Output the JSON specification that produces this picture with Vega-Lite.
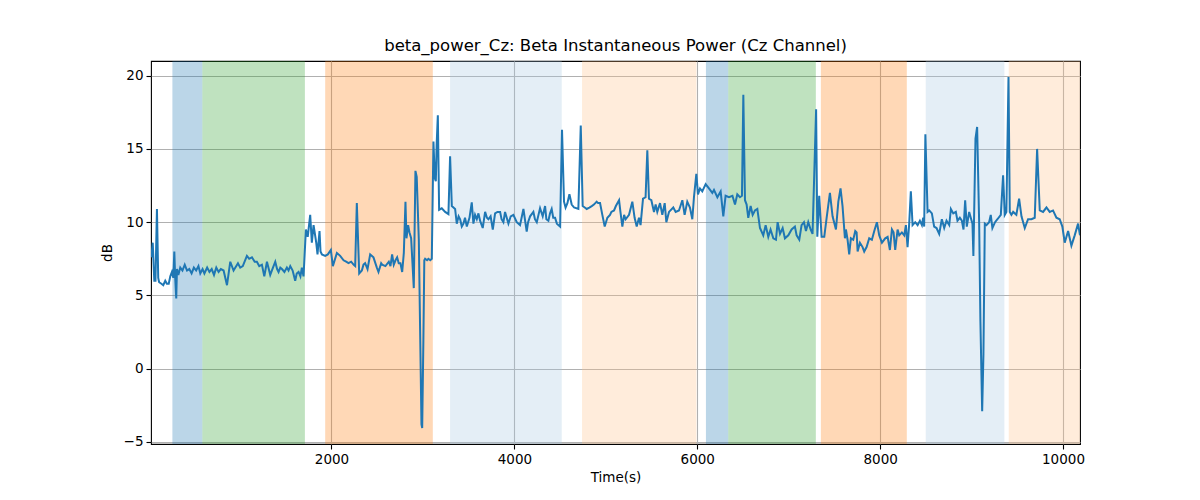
{
  "$schema": "https://vega.github.io/schema/vega-lite/v6.json",
  "autosize": {"type": "none"},
  "padding": {"left": 151, "top": 61, "right": 120, "bottom": 56},
  "width": 929,
  "height": 383,
  "background": "white",
  "title": {
    "text": "beta_power_Cz: Beta Instantaneous Power (Cz Channel)",
    "font": "DejaVu Sans",
    "fontSize": 16.5,
    "fontWeight": "normal",
    "color": "black",
    "anchor": "middle",
    "offset": 7
  },
  "datasets": {
    "bands": [
      {"start": 260, "end": 588, "phase": "A"},
      {"start": 588, "end": 1709, "phase": "B"},
      {"start": 1931, "end": 3108, "phase": "C"},
      {"start": 3297, "end": 4518, "phase": "D"},
      {"start": 4740, "end": 5991, "phase": "E"},
      {"start": 6095, "end": 6339, "phase": "A"},
      {"start": 6339, "end": 7297, "phase": "B"},
      {"start": 7352, "end": 8292, "phase": "C"},
      {"start": 8499, "end": 9359, "phase": "D"},
      {"start": 9407, "end": 10250, "phase": "E"}
    ],
    "power": [
      {"t": 30, "dB": 7.6}, {"t": 45, "dB": 8.6}, {"t": 62, "dB": 6.0}, {"t": 75, "dB": 6.0},
      {"t": 91, "dB": 10.9}, {"t": 105, "dB": 6.2}, {"t": 115, "dB": 5.9}, {"t": 140, "dB": 5.8},
      {"t": 160, "dB": 5.7}, {"t": 182, "dB": 6.0}, {"t": 200, "dB": 5.8}, {"t": 220, "dB": 5.8},
      {"t": 237, "dB": 6.3}, {"t": 255, "dB": 6.6}, {"t": 270, "dB": 6.2}, {"t": 281, "dB": 8.0},
      {"t": 290, "dB": 6.3}, {"t": 302, "dB": 4.8}, {"t": 310, "dB": 6.8}, {"t": 325, "dB": 6.4},
      {"t": 346, "dB": 6.9}, {"t": 370, "dB": 6.7}, {"t": 395, "dB": 7.1}, {"t": 420, "dB": 6.7},
      {"t": 445, "dB": 6.8}, {"t": 470, "dB": 6.5}, {"t": 495, "dB": 6.9}, {"t": 520, "dB": 6.7},
      {"t": 545, "dB": 7.0}, {"t": 565, "dB": 6.5}, {"t": 590, "dB": 6.8}, {"t": 610, "dB": 6.5},
      {"t": 640, "dB": 6.9}, {"t": 665, "dB": 6.6}, {"t": 690, "dB": 6.8}, {"t": 715, "dB": 6.4},
      {"t": 740, "dB": 6.9}, {"t": 765, "dB": 6.6}, {"t": 790, "dB": 6.8}, {"t": 820, "dB": 6.7},
      {"t": 857, "dB": 5.7}, {"t": 893, "dB": 7.3}, {"t": 929, "dB": 6.7}, {"t": 977, "dB": 7.2},
      {"t": 1002, "dB": 6.9}, {"t": 1030, "dB": 7.0}, {"t": 1075, "dB": 7.7}, {"t": 1100, "dB": 7.5},
      {"t": 1130, "dB": 7.6}, {"t": 1160, "dB": 7.3}, {"t": 1184, "dB": 7.3}, {"t": 1210, "dB": 7.0},
      {"t": 1239, "dB": 7.1}, {"t": 1265, "dB": 6.3}, {"t": 1294, "dB": 7.3}, {"t": 1310, "dB": 6.9},
      {"t": 1330, "dB": 6.4}, {"t": 1360, "dB": 6.9}, {"t": 1385, "dB": 7.3}, {"t": 1405, "dB": 6.8},
      {"t": 1421, "dB": 6.6}, {"t": 1440, "dB": 6.9}, {"t": 1458, "dB": 6.8}, {"t": 1485, "dB": 6.6},
      {"t": 1512, "dB": 6.9}, {"t": 1530, "dB": 6.7}, {"t": 1549, "dB": 7.0}, {"t": 1575, "dB": 6.7},
      {"t": 1603, "dB": 6.0}, {"t": 1620, "dB": 6.5}, {"t": 1640, "dB": 6.6}, {"t": 1660, "dB": 6.3},
      {"t": 1676, "dB": 6.9}, {"t": 1694, "dB": 6.3}, {"t": 1720, "dB": 9.5}, {"t": 1740, "dB": 9.0},
      {"t": 1767, "dB": 10.5}, {"t": 1785, "dB": 8.6}, {"t": 1804, "dB": 9.8}, {"t": 1833, "dB": 8.6},
      {"t": 1847, "dB": 7.8}, {"t": 1869, "dB": 9.4}, {"t": 1880, "dB": 8.0}, {"t": 1895, "dB": 7.8},
      {"t": 1931, "dB": 7.7}, {"t": 1960, "dB": 7.8}, {"t": 1993, "dB": 8.1}, {"t": 2015, "dB": 7.0},
      {"t": 2059, "dB": 7.9}, {"t": 2095, "dB": 7.7}, {"t": 2132, "dB": 7.4}, {"t": 2160, "dB": 7.3},
      {"t": 2186, "dB": 7.2}, {"t": 2215, "dB": 7.3}, {"t": 2241, "dB": 7.1}, {"t": 2259, "dB": 7.0},
      {"t": 2277, "dB": 11.3}, {"t": 2303, "dB": 6.5}, {"t": 2332, "dB": 6.7}, {"t": 2350, "dB": 7.1},
      {"t": 2368, "dB": 7.2}, {"t": 2394, "dB": 6.8}, {"t": 2423, "dB": 7.8}, {"t": 2459, "dB": 7.6},
      {"t": 2496, "dB": 6.9}, {"t": 2514, "dB": 6.6}, {"t": 2543, "dB": 7.2}, {"t": 2554, "dB": 7.1},
      {"t": 2590, "dB": 7.0}, {"t": 2627, "dB": 7.3}, {"t": 2645, "dB": 7.0}, {"t": 2663, "dB": 7.8},
      {"t": 2681, "dB": 7.1}, {"t": 2700, "dB": 7.4}, {"t": 2718, "dB": 7.6}, {"t": 2735, "dB": 7.2},
      {"t": 2754, "dB": 7.2}, {"t": 2773, "dB": 6.6}, {"t": 2791, "dB": 7.9}, {"t": 2809, "dB": 11.4},
      {"t": 2820, "dB": 8.9}, {"t": 2838, "dB": 9.8}, {"t": 2853, "dB": 9.3}, {"t": 2871, "dB": 8.9},
      {"t": 2900, "dB": 5.5}, {"t": 2918, "dB": 13.5}, {"t": 2932, "dB": 13.1}, {"t": 2955, "dB": 8.8},
      {"t": 2984, "dB": -3.8}, {"t": 2992, "dB": -4.05}, {"t": 3005, "dB": 2.0}, {"t": 3015, "dB": 7.4},
      {"t": 3024, "dB": 7.5}, {"t": 3045, "dB": 7.4}, {"t": 3060, "dB": 7.5}, {"t": 3080, "dB": 7.4},
      {"t": 3097, "dB": 7.5}, {"t": 3115, "dB": 15.5}, {"t": 3130, "dB": 13.0}, {"t": 3141, "dB": 12.8},
      {"t": 3150, "dB": 15.3}, {"t": 3163, "dB": 17.3}, {"t": 3177, "dB": 10.85}, {"t": 3206, "dB": 10.95},
      {"t": 3243, "dB": 10.7}, {"t": 3279, "dB": 10.55}, {"t": 3297, "dB": 14.5}, {"t": 3316, "dB": 11.1},
      {"t": 3352, "dB": 10.9}, {"t": 3370, "dB": 9.9}, {"t": 3390, "dB": 10.4}, {"t": 3407, "dB": 10.2},
      {"t": 3425, "dB": 9.7}, {"t": 3443, "dB": 9.9}, {"t": 3460, "dB": 10.3}, {"t": 3480, "dB": 9.7},
      {"t": 3509, "dB": 10.3}, {"t": 3534, "dB": 11.35}, {"t": 3552, "dB": 9.9}, {"t": 3570, "dB": 10.5},
      {"t": 3589, "dB": 10.2}, {"t": 3607, "dB": 10.6}, {"t": 3625, "dB": 10.1}, {"t": 3654, "dB": 9.6},
      {"t": 3680, "dB": 10.7}, {"t": 3700, "dB": 10.3}, {"t": 3716, "dB": 10.2}, {"t": 3740, "dB": 10.4},
      {"t": 3764, "dB": 9.5}, {"t": 3789, "dB": 10.6}, {"t": 3815, "dB": 10.7}, {"t": 3844, "dB": 10.7},
      {"t": 3860, "dB": 10.2}, {"t": 3880, "dB": 10.0}, {"t": 3898, "dB": 10.7}, {"t": 3935, "dB": 9.9},
      {"t": 3960, "dB": 10.4}, {"t": 3989, "dB": 10.5}, {"t": 4026, "dB": 10.0}, {"t": 4062, "dB": 9.8},
      {"t": 4099, "dB": 10.9}, {"t": 4135, "dB": 9.35}, {"t": 4150, "dB": 10.0}, {"t": 4172, "dB": 10.4},
      {"t": 4208, "dB": 10.7}, {"t": 4225, "dB": 10.2}, {"t": 4245, "dB": 10.0}, {"t": 4281, "dB": 10.96},
      {"t": 4310, "dB": 10.4}, {"t": 4336, "dB": 11.1}, {"t": 4350, "dB": 10.2}, {"t": 4372, "dB": 10.1},
      {"t": 4390, "dB": 10.6}, {"t": 4408, "dB": 10.9}, {"t": 4425, "dB": 10.3}, {"t": 4445, "dB": 10.3},
      {"t": 4465, "dB": 9.9}, {"t": 4481, "dB": 9.8}, {"t": 4500, "dB": 9.7}, {"t": 4521, "dB": 16.3},
      {"t": 4543, "dB": 11.4}, {"t": 4560, "dB": 11.0}, {"t": 4580, "dB": 11.3}, {"t": 4602, "dB": 11.9},
      {"t": 4627, "dB": 11.2}, {"t": 4653, "dB": 11.0}, {"t": 4700, "dB": 10.9}, {"t": 4726, "dB": 16.6},
      {"t": 4747, "dB": 11.1}, {"t": 4770, "dB": 11.0}, {"t": 4791, "dB": 10.9}, {"t": 4820, "dB": 11.0},
      {"t": 4846, "dB": 11.1}, {"t": 4870, "dB": 11.2}, {"t": 4900, "dB": 11.4}, {"t": 4915, "dB": 11.3},
      {"t": 4937, "dB": 11.3}, {"t": 4962, "dB": 10.5}, {"t": 4988, "dB": 9.7}, {"t": 5017, "dB": 10.3},
      {"t": 5046, "dB": 10.5}, {"t": 5061, "dB": 10.7}, {"t": 5090, "dB": 10.8}, {"t": 5110, "dB": 11.1},
      {"t": 5145, "dB": 11.5}, {"t": 5160, "dB": 10.7}, {"t": 5181, "dB": 9.7}, {"t": 5200, "dB": 10.5},
      {"t": 5217, "dB": 10.2}, {"t": 5254, "dB": 10.5}, {"t": 5290, "dB": 11.4}, {"t": 5315, "dB": 10.3},
      {"t": 5338, "dB": 9.7}, {"t": 5363, "dB": 10.3}, {"t": 5380, "dB": 9.8}, {"t": 5407, "dB": 11.6},
      {"t": 5435, "dB": 11.7}, {"t": 5454, "dB": 14.9}, {"t": 5472, "dB": 11.6}, {"t": 5498, "dB": 11.5},
      {"t": 5527, "dB": 10.7}, {"t": 5545, "dB": 11.2}, {"t": 5563, "dB": 10.7}, {"t": 5593, "dB": 11.3},
      {"t": 5618, "dB": 10.5}, {"t": 5644, "dB": 11.3}, {"t": 5662, "dB": 10.0}, {"t": 5691, "dB": 10.7},
      {"t": 5738, "dB": 11.0}, {"t": 5764, "dB": 10.7}, {"t": 5800, "dB": 10.8}, {"t": 5837, "dB": 11.5},
      {"t": 5862, "dB": 10.5}, {"t": 5891, "dB": 11.4}, {"t": 5920, "dB": 11.0}, {"t": 5946, "dB": 10.2},
      {"t": 5964, "dB": 11.7}, {"t": 5990, "dB": 13.3}, {"t": 6008, "dB": 11.9}, {"t": 6030, "dB": 12.3},
      {"t": 6055, "dB": 12.1}, {"t": 6092, "dB": 12.6}, {"t": 6128, "dB": 12.3}, {"t": 6165, "dB": 12.0},
      {"t": 6183, "dB": 12.2}, {"t": 6220, "dB": 11.7}, {"t": 6256, "dB": 12.1}, {"t": 6285, "dB": 10.4},
      {"t": 6310, "dB": 11.8}, {"t": 6347, "dB": 11.7}, {"t": 6385, "dB": 11.8}, {"t": 6413, "dB": 11.2},
      {"t": 6438, "dB": 11.9}, {"t": 6467, "dB": 11.7}, {"t": 6489, "dB": 11.8}, {"t": 6504, "dB": 18.7},
      {"t": 6522, "dB": 11.5}, {"t": 6540, "dB": 11.2}, {"t": 6558, "dB": 10.3}, {"t": 6584, "dB": 11.1},
      {"t": 6606, "dB": 10.5}, {"t": 6631, "dB": 10.8}, {"t": 6657, "dB": 10.9}, {"t": 6686, "dB": 9.6},
      {"t": 6722, "dB": 9.1}, {"t": 6748, "dB": 9.8}, {"t": 6777, "dB": 9.0}, {"t": 6802, "dB": 9.5},
      {"t": 6832, "dB": 8.9}, {"t": 6861, "dB": 8.8}, {"t": 6879, "dB": 10.0}, {"t": 6905, "dB": 9.2},
      {"t": 6934, "dB": 9.6}, {"t": 6959, "dB": 8.9}, {"t": 6996, "dB": 9.1}, {"t": 7032, "dB": 9.5},
      {"t": 7068, "dB": 9.7}, {"t": 7087, "dB": 9.1}, {"t": 7116, "dB": 8.8}, {"t": 7141, "dB": 9.8},
      {"t": 7167, "dB": 10.0}, {"t": 7189, "dB": 9.4}, {"t": 7214, "dB": 10.0}, {"t": 7240, "dB": 9.5},
      {"t": 7261, "dB": 9.2}, {"t": 7300, "dB": 17.7}, {"t": 7313, "dB": 9.0}, {"t": 7334, "dB": 11.8},
      {"t": 7360, "dB": 9.0}, {"t": 7389, "dB": 9.0}, {"t": 7415, "dB": 10.3}, {"t": 7451, "dB": 12.0},
      {"t": 7480, "dB": 10.4}, {"t": 7517, "dB": 9.5}, {"t": 7543, "dB": 11.4}, {"t": 7567, "dB": 12.3},
      {"t": 7589, "dB": 11.1}, {"t": 7615, "dB": 8.9}, {"t": 7626, "dB": 9.5}, {"t": 7644, "dB": 8.8},
      {"t": 7662, "dB": 7.8}, {"t": 7680, "dB": 8.9}, {"t": 7706, "dB": 8.8}, {"t": 7728, "dB": 9.4},
      {"t": 7743, "dB": 9.3}, {"t": 7754, "dB": 8.0}, {"t": 7779, "dB": 8.6}, {"t": 7808, "dB": 8.3},
      {"t": 7826, "dB": 8.0}, {"t": 7852, "dB": 8.3}, {"t": 7881, "dB": 8.9}, {"t": 7910, "dB": 8.8},
      {"t": 7936, "dB": 9.4}, {"t": 7965, "dB": 10.0}, {"t": 7990, "dB": 9.1}, {"t": 8020, "dB": 8.6},
      {"t": 8056, "dB": 8.9}, {"t": 8082, "dB": 9.0}, {"t": 8107, "dB": 8.1}, {"t": 8129, "dB": 9.5},
      {"t": 8147, "dB": 9.3}, {"t": 8165, "dB": 8.1}, {"t": 8191, "dB": 9.5}, {"t": 8209, "dB": 9.1},
      {"t": 8238, "dB": 9.3}, {"t": 8264, "dB": 9.1}, {"t": 8282, "dB": 9.8}, {"t": 8300, "dB": 8.3},
      {"t": 8318, "dB": 9.9}, {"t": 8336, "dB": 12.1}, {"t": 8355, "dB": 9.8}, {"t": 8384, "dB": 10.0},
      {"t": 8410, "dB": 9.8}, {"t": 8435, "dB": 10.1}, {"t": 8457, "dB": 9.8}, {"t": 8471, "dB": 10.3},
      {"t": 8482, "dB": 9.7}, {"t": 8495, "dB": 16.0}, {"t": 8519, "dB": 10.7}, {"t": 8537, "dB": 10.8},
      {"t": 8566, "dB": 10.6}, {"t": 8591, "dB": 9.7}, {"t": 8617, "dB": 9.6}, {"t": 8646, "dB": 9.2},
      {"t": 8675, "dB": 10.2}, {"t": 8701, "dB": 9.6}, {"t": 8726, "dB": 10.1}, {"t": 8756, "dB": 9.8},
      {"t": 8774, "dB": 10.9}, {"t": 8800, "dB": 10.6}, {"t": 8828, "dB": 10.7}, {"t": 8846, "dB": 10.1},
      {"t": 8872, "dB": 10.3}, {"t": 8894, "dB": 10.1}, {"t": 8912, "dB": 9.5}, {"t": 8930, "dB": 11.5},
      {"t": 8948, "dB": 9.7}, {"t": 8974, "dB": 10.7}, {"t": 8996, "dB": 10.2}, {"t": 9010, "dB": 9.9},
      {"t": 9020, "dB": 7.7}, {"t": 9043, "dB": 15.7}, {"t": 9061, "dB": 16.5}, {"t": 9083, "dB": 10.0},
      {"t": 9097, "dB": 3.2}, {"t": 9116, "dB": -2.9}, {"t": 9130, "dB": 1.0}, {"t": 9145, "dB": 9.9},
      {"t": 9163, "dB": 9.8}, {"t": 9192, "dB": 10.0}, {"t": 9210, "dB": 10.5}, {"t": 9228, "dB": 9.6},
      {"t": 9257, "dB": 10.0}, {"t": 9283, "dB": 10.2}, {"t": 9320, "dB": 10.5}, {"t": 9345, "dB": 13.2},
      {"t": 9363, "dB": 10.5}, {"t": 9381, "dB": 10.7}, {"t": 9404, "dB": 19.9}, {"t": 9418, "dB": 10.7},
      {"t": 9436, "dB": 10.5}, {"t": 9455, "dB": 10.7}, {"t": 9490, "dB": 10.5}, {"t": 9520, "dB": 11.6},
      {"t": 9546, "dB": 10.4}, {"t": 9582, "dB": 9.6}, {"t": 9618, "dB": 10.2}, {"t": 9655, "dB": 10.2},
      {"t": 9691, "dB": 10.3}, {"t": 9717, "dB": 15.0}, {"t": 9746, "dB": 10.8}, {"t": 9782, "dB": 10.7},
      {"t": 9819, "dB": 11.0}, {"t": 9855, "dB": 10.7}, {"t": 9891, "dB": 10.8}, {"t": 9928, "dB": 10.3},
      {"t": 9964, "dB": 10.2}, {"t": 9993, "dB": 9.7}, {"t": 10019, "dB": 8.6}, {"t": 10056, "dB": 9.4},
      {"t": 10092, "dB": 8.4}, {"t": 10128, "dB": 9.1}, {"t": 10165, "dB": 9.9}, {"t": 10186, "dB": 9.1}
    ]
  },
  "layer": [
    {
      "data": {"name": "bands"},
      "mark": {"type": "rect", "opacity": 0.3, "clip": true},
      "encoding": {
        "x": {"field": "start", "type": "quantitative"},
        "x2": {"field": "end"},
        "color": {
          "field": "phase",
          "type": "nominal",
          "scale": {
            "domain": ["A", "B", "C", "D", "E"],
            "range": ["#1f77b4", "#2ca02c", "#ff7f0e", "#a5c6e1", "#ffc087"]
          },
          "legend": null
        }
      }
    },
    {
      "data": {"name": "power"},
      "mark": {"type": "line", "color": "#1f77b4", "strokeWidth": 2, "clip": true},
      "encoding": {
        "x": {
          "field": "t",
          "type": "quantitative",
          "title": "Time(s)",
          "scale": {"domain": [26, 10186], "nice": false, "zero": false},
          "axis": {"values": [2000, 4000, 6000, 8000, 10000], "format": "d"}
        },
        "y": {
          "field": "dB",
          "type": "quantitative",
          "title": "dB",
          "scale": {"domain": [-5.14, 21.0], "nice": false, "zero": false},
          "axis": {"values": [-5, 0, 5, 10, 15, 20], "format": "d"}
        }
      }
    }
  ],
  "config": {
    "font": "DejaVu Sans",
    "view": {"stroke": "black", "strokeWidth": 1.1},
    "axis": {
      "domain": false,
      "grid": true,
      "gridColor": "#b0b0b0",
      "gridWidth": 1.1,
      "gridOpacity": 1,
      "tickColor": "black",
      "tickSize": 5,
      "tickWidth": 1.1,
      "labelFont": "DejaVu Sans",
      "labelFontSize": 13.5,
      "labelColor": "black",
      "labelPadding": 3,
      "titleFont": "DejaVu Sans",
      "titleFontSize": 13.5,
      "titleFontWeight": "normal",
      "titleColor": "black"
    },
    "axisX": {"titlePadding": 5},
    "axisY": {"titlePadding": 9}
  }
}
